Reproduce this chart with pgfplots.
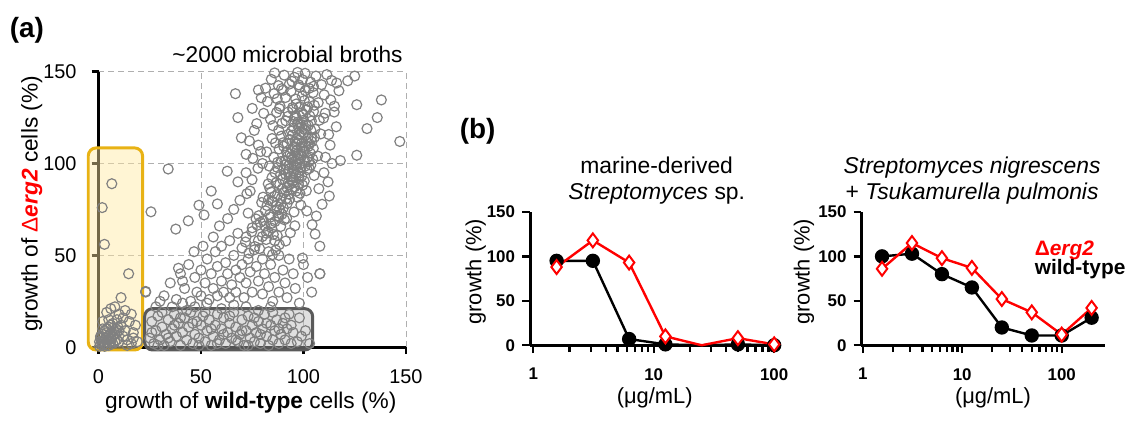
\documentclass[border=0pt]{standalone}
\usepackage{fontspec}
\setmainfont{Liberation Sans}
\usepackage{pgfplots}
\pgfplotsset{compat=1.18}

\definecolor{ptgray}{RGB}{128,128,128}
\definecolor{gridgray}{RGB}{175,175,175}
\definecolor{boxgold}{RGB}{232,178,20}
\definecolor{boxfill}{RGB}{255,232,160}
\definecolor{boxdark}{RGB}{90,90,90}
\definecolor{boxlight}{RGB}{185,185,185}

\pgfplotsset{
  panelb/.style={
    scale only axis, anchor=south west,
    ymin=0, ymax=150,
    axis lines*=left,
    axis line style={line width=1.5pt, black},
    log ticks with fixed point,
    ytick={0,50,100,150},
    tick align=outside, major tick length=4pt, minor tick length=3.5pt,
    tick style={line width=1.2pt, black},
    /pgf/number format/assume math mode=true,
    tick label style={font=\bfseries\fontsize{8.5}{10}\selectfont},
    xticklabel style={yshift=-4pt},
    clip=false,
  },
  wt/.style={black, line width=1.2pt, mark=*, mark size=3pt},
  mut/.style={red, line width=1.2pt, mark=diamond*, mark size=3.5pt,
    mark options={fill=white, line width=1pt}},
}

\begin{document}
\begin{tikzpicture}[x=1pt,y=1pt]
\path (0,0) rectangle (566,209.5);

% ---------------- panel (a)
\begin{axis}[
  at={(49.5pt,35pt)}, anchor=south west, scale only axis,
  width=154.5pt, height=138.5pt,
  xmin=0, xmax=150, ymin=0, ymax=150,
  axis lines*=left,
  axis line style={line width=1.5pt, black},
  xtick={0,50,100,150}, ytick={0,50,100,150},
  tick align=outside, major tick length=3.5pt,
  tick style={line width=1.2pt, black},
  grid=major, grid style={densely dashed, line width=0.4pt, gridgray},
  /pgf/number format/assume math mode=true,
  tick label style={font=\fontsize{10}{12}\selectfont},
  xticklabel style={yshift=-4pt}, yticklabel style={xshift=-4pt},
  clip=false,
]
\addplot[only marks, mark=o, mark size=2.5pt, ptgray, mark options={line width=0.6pt}] coordinates {
 % near origin
 (0.5,0.5) (1,1.5) (1.5,3) (2,1) (2.5,4) (3,2) (3.5,5) (4,3) (4.5,6) (5,4)
 (5.5,7) (6,5) (6.5,8) (7,6) (7.5,9) (8,7) (8.5,10) (9,8) (9.5,11) (10,9)
 (1,5) (2,7) (3,9) (4,10) (5,11) (6,12) (0.5,3) (1,6) (3,0.5) (5,1)
 (7,2) (8,3) (9,4) (6,3) (4,8) (2,10) (7,13) (5,15) (9,15) (11,12)
 (12,6) (14,4) (16,2) (10,3) (13,9) (15,14) (17,8) (10,18) (13,20) (8,22)
 (11,27) (16,18) (4,19) (6,21) (12,16) (18,12) (19,3) (2,14) (14,1) (17,5)
 (6.5,89) (1.8,76) (2.9,56) (14.7,40)
 % low band (grey box)
 (25,5) (26,14) (27,2) (28,9) (29,17) (30,4) (31,11) (32,1) (33,7) (34,15)
 (35,3) (36,10) (37,18) (38,6) (39,13) (40,1) (41,8) (42,16) (43,4) (44,11)
 (45,19) (46,2) (47,7) (48,14) (49,5) (50,12) (51,17) (52,3) (53,9) (54,15)
 (55,1) (56,6) (57,12) (58,18) (59,4) (60,10) (61,16) (62,2) (63,8) (64,13)
 (65,5) (66,19) (67,11) (68,3) (69,7) (70,15) (71,1) (72,9) (73,17) (74,5)
 (75,12) (76,3) (77,8) (78,14) (79,2) (80,10) (81,18) (82,6) (83,1) (84,12)
 (85,4) (86,9) (87,15) (88,2) (89,7) (90,13) (91,4) (92,10) (94,2) (95,8)
 (97,3) (99,6) (101,9) (103,2) (98,16) (93,18)
 (26,8) (29,1) (31,19) (34,5) (37,12) (40,16) (43,20) (46,13) (49,1) (52,19)
 (55,10) (58,2) (61,7) (64,17) (67,4) (70,9) (73,1) (76,16) (79,7) (82,13)
 (85,19) (88,10) (91,16) (94,12) (47,22) (53,24) (60,21) (66,23) (72,22) (78,20)
 (84,22) (36,22) (30,25) (41,24)
 % middle scatter
 (23,30) (28,22) (32,28) (35,35) (38,26) (40,40) (42,32) (44,45) (45,25) (47,38)
 (48,30) (50,42) (50,28) (52,35) (53,48) (54,26) (55,40) (56,32) (57,52) (58,28)
 (58,44) (60,36) (60,55) (61,30) (62,46) (63,40) (64,27) (64,58) (65,34) (66,50)
 (67,42) (67,30) (68,62) (69,38) (70,54) (70,45) (71,27) (72,60) (72,35) (73,48)
 (74,41) (75,65) (75,30) (76,53) (77,44) (78,36) (78,58) (79,68) (80,48) (80,29)
 (81,40) (82,62) (83,33) (83,52) (84,45) (85,25) (86,38) (86,58) (88,30) (88,50)
 (90,42) (91,35) (92,27) (93,48) (95,40) (96,32) (98,24) (100,45) (102,38) (104,30)
 (99.5,48.5) (108,40) (108,55) (105.7,61.6) (46.6,52) (37.7,64.3) (43.8,68.8) (49,77.3) (51.5,72) (62.8,95.8)
 (34,97) (25.6,73.7) (23,30.4) (39,43) (41,36) (51,55) (56,60) (59,66) (63,70) (66,75)
 (69,80) (73,73) (55,85) (58,78) (68,90) (72,95) (74,85)
 % main band
 (73.4,51.2) (78.6,53.7) (84.9,50.4) (88.2,55.9) (71.7,57.3) (76.3,54.8) (81.8,58.6) (86.5,52.9) (91.3,57.8) (79.9,60.2)
 (74.8,62.9) (77.5,66.4) (82.7,63.1) (85.3,61.4) (88.9,65.7) (93.6,62.3) (80.4,68.9) (84.1,67.2) (90.7,69.4) (76.9,69.8) (87.2,60.8) (95.8,66.1)
 (78.2,71.6) (81.4,74.3) (83.9,70.8) (86.8,76.9) (89.5,72.4) (92.1,78.3) (95.4,73.6) (79.6,78.8) (84.7,79.5) (88.3,74.9) (91.8,70.2) (98.7,77.4) (82.2,77.1) (87.6,71.5)
 (80.3,81.7) (83.6,86.4) (85.9,82.2) (88.4,88.7) (90.6,84.1) (93.2,80.6) (95.7,87.3) (98.3,83.8) (86.7,89.6) (91.9,86.9) (84.2,84.5) (89.1,81.1) (101.4,85.2) (94.5,89.8) (82.8,88.9) (97.1,81.6)
 (84.6,92.3) (87.3,97.8) (89.8,91.4) (92.4,95.6) (94.9,90.7) (96.6,98.4) (99.2,93.1) (101.8,96.7) (86.1,95.1) (91.1,99.3) (93.7,92.8) (97.9,91.6) (103.6,99.1) (88.8,93.9) (95.3,96.2) (100.4,90.4) (105.2,93.5) (83.3,98.6)
 (85.5,103.4) (88.1,107.9) (90.9,101.6) (93.5,105.3) (95.8,109.1) (97.4,102.3) (99.9,106.8) (102.6,100.9) (104.8,108.2) (87.4,100.7) (92.2,103.9) (94.6,107.7) (98.5,104.6) (101.1,109.6) (106.9,104.1) (90.3,109.4) (96.7,100.2) (103.3,105.7) (82.1,106.3)
 (84.7,113.6) (87.9,118.2) (90.1,111.3) (92.7,115.9) (95.2,119.4) (97.6,112.7) (100.2,116.5) (102.9,110.8) (105.6,118.7) (89.2,114.9) (94.1,117.6) (99.1,119.8) (103.8,113.9) (108.4,116.1) (86.3,111.2) (96.4,110.5) (101.5,112.1)
 (83.9,124.1) (86.9,127.8) (89.6,121.9) (92.3,125.6) (94.8,129.4) (97.3,122.6) (99.8,126.9) (102.4,120.7) (104.9,128.3) (107.7,123.5) (88.2,129.9) (91.4,123.2) (96.1,126.1) (101.3,129.2) (110.6,127.4) (85.1,120.6) (98.6,121.3)
 (82.4,133.7) (85.7,138.1) (88.6,131.2) (91.2,135.9) (93.9,139.3) (96.5,132.4) (99.4,136.7) (102.1,130.8) (104.7,138.6) (107.2,133.1) (110.1,137.4) (87.2,135.2) (94.7,130.5) (100.9,139.7) (113.3,134.6) (90.1,139.9)
 (81.5,141) (84.3,145.8) (87.8,142.4) (90.6,148.1) (93.1,143.2) (95.7,146.9) (98.2,141.6) (100.8,149.1) (103.5,144.3) (106.1,147.6) (108.8,142.9) (111.4,148.4) (113.7,145.2) (89.3,140.7) (97.1,149.6) (102.7,140.9) (116.2,143.8) (85.9,149.3)
 % core
 (93.1,88.4) (96.2,94.1) (98.8,97.6) (100.7,101.3) (97.2,105.4) (99.6,108.9) (101.9,103.2) (95.9,111.8) (98.1,115.7) (100.6,118.4)
 (102.3,114.6) (94.3,101.9) (96.8,107.1) (93.4,113.1) (99.3,111.4) (104.1,111.9) (97.7,119.1) (95.1,122.8) (100.1,123.6) (103.1,125.9)
 (91.7,106.2) (98.4,99.8) (102.8,97.3) (95.6,104.2) (97.5,95.4)
 (90.4,96.8) (92.8,98.9) (94.1,103.6) (96.3,101.4) (98.9,103.9) (100.3,106.1) (102.4,109.3) (99.0,117.2) (96.9,113.6) (94.6,115.4)
 (92.0,110.8) (97.1,121.5) (101.2,121.0) (103.6,118.1) (105.4,114.3) (104.5,102.4) (100.9,98.6) (97.8,93.2) (95.0,92.4) (92.6,89.6)
 (89.7,86.2) (87.4,83.1) (85.1,79.2) (86.9,74.6) (83.5,72.2) (81.2,65.9) (84.5,64.8) (86.1,68.4) (90.2,75.8) (92.9,83.4)
 (94.3,86.1) (96.4,84.9) (99.6,88.2) (97.5,88.9) (91.5,80.7) (89.0,77.7) (88.0,70.9) (82.9,80.3) (93.0,96.9) (95.5,98.7)
 (91.3,94.1) (89.0,101.1) (98.1,130.9) (100.4,134.2) (96.2,135.1) (102.9,133.6) (97.7,142.8) (94.4,144.7) (99.5,145.6) (104.9,142.0)
 (92.5,128.0) (95.9,125.2) (99.2,127.6) (103.9,123.1) (105.3,131.7)
 % band edges
 (72.4,83.6) (74.9,91.2) (77.8,97.4) (75.3,102.8) (79.1,106.5) (73.6,112.3) (77.2,121.7) (80.6,127.3) (79.4,135.8) (106.3,71.4)
 (109.1,77.8) (107.5,86.3) (104.2,66.7) (101.6,74.2) (110.7,103.4) (112.3,115.8) (109.8,124.7) (115.1,131.2) (117.3,139.6)
 % outliers
 (147,112) (138,134.6) (136,125) (131,119) (126,104.5) (118,101.6) (126,132) (125,147.6) (121.6,145)
 (108,40) (112.6,82.3) (112,90) (115,128) (113,110) (116,120) (110,95) (114,100)
 (66.8,138) (68,125) (69.7,114) (75,130) (78,140) (72,105) (76,118) (80,100) (78,110)
};
\draw[boxgold, line width=1.5pt, rounded corners=4pt, fill=boxfill, fill opacity=0.45]
  (axis cs:-5,-1.5) rectangle (axis cs:21.5,108.5);
\draw[boxdark, line width=1.5pt, rounded corners=4pt, fill=boxlight, fill opacity=0.45]
  (axis cs:22.5,-1.5) rectangle (axis cs:104.5,21);
\end{axis}

\node[font=\bfseries\fontsize{14}{16}\selectfont] at (13.5,194.5) {(a)};
\node[font=\fontsize{11.4}{13}\selectfont] at (144.5,182) {\textasciitilde 2000 microbial broths};
\node[font=\fontsize{11.4}{13}\selectfont] at (126,7) {growth of \textbf{wild-type} cells (\%)};
\node[rotate=90, font=\fontsize{11.4}{13}\selectfont] at (16,107)
  {growth of \textcolor{red}{Δ\textbf{\textit{erg2}}} cells (\%)};

% ---------------- panel (b), left
\begin{axis}[xmode=log, panelb,
  at={(266.35pt,36pt)}, width=125.2pt, height=67pt,
  xmin=0.94, xmax=110,
]
\addplot[wt, mark indices={1,2,3,4,6,7}] coordinates {
 (1.5625,95) (3.125,95) (6.25,7) (12.5,1) (25,0) (50,1) (100,0)
};
\addplot[mut, mark indices={1,2,3,4,6,7}] coordinates {
 (1.5625,88) (3.125,118) (6.25,93) (12.5,10) (25,0) (50,8) (100,1)
};
\end{axis}

% ---------------- panel (b), right
\begin{axis}[xmode=log, panelb,
  at={(432.9pt,36pt)}, width=122.2pt, height=67pt,
  xmin=0.97, xmax=270,
]
\addplot[wt] coordinates {
 (1.5625,100) (3.125,103) (6.25,80) (12.5,65) (25,20) (50,11) (100,11) (200,31)
};
\addplot[mut] coordinates {
 (1.5625,86) (3.125,115) (6.25,98) (12.5,87) (25,52) (50,37) (100,12) (200,42)
};
\end{axis}

\node[font=\bfseries\fontsize{14}{16}\selectfont] at (240,143.5) {(b)};
\node[align=center, font=\fontsize{11.5}{13.5}\selectfont] at (330,118.75)
  {marine-derived\\\textit{Streptomyces} sp.};
\node[align=center, font=\fontsize{11.5}{13.5}\selectfont] at (488.5,118.75)
  {\textit{Streptomyces nigrescens}\\+ \textit{Tsukamurella pulmonis}};
\node[rotate=90, font=\fontsize{11}{13}\selectfont] at (239,73) {growth (\%)};
\node[rotate=90, font=\fontsize{11}{13}\selectfont] at (404,73) {growth (\%)};
\node[font=\fontsize{11}{13}\selectfont] at (329,9.5) {(μg/mL)};
\node[font=\fontsize{11}{13}\selectfont] at (499,9.5) {(μg/mL)};
\node[anchor=west, text=red, font=\bfseries\fontsize{10.5}{12}\selectfont] at (516.5,83.5) {Δ\textit{erg2}};
\node[anchor=west, font=\bfseries\fontsize{10.5}{12}\selectfont] at (516.5,74.5) {wild-type};
\end{tikzpicture}
\end{document}
